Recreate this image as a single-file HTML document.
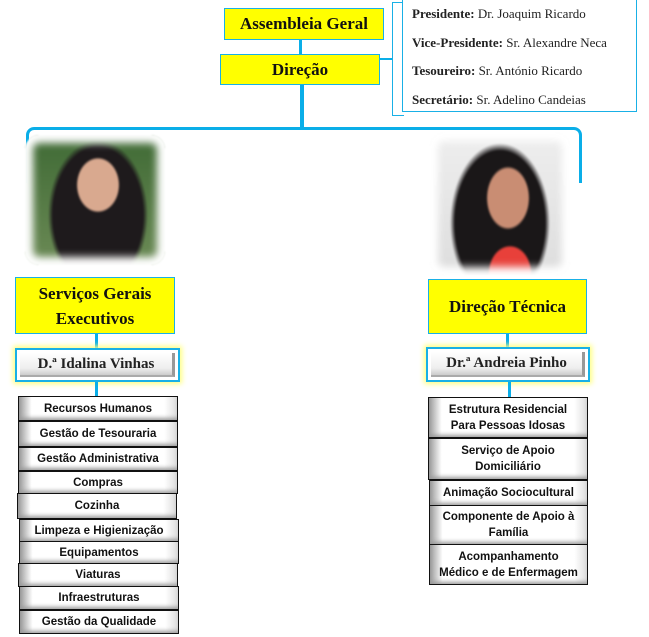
<!DOCTYPE html>
<html><head><meta charset="utf-8"><style>
body{margin:0;width:649px;height:637px;background:#fff;position:relative;overflow:hidden;font-family:"Liberation Serif",serif}
.a{position:absolute;box-sizing:border-box}
.y{background:#ffff00;border:1.5px solid #19b0e6;font-weight:bold;color:#111;display:flex;align-items:center;justify-content:center;text-align:center;font-size:17px}
.ln{position:absolute;background:#0aaee8}
.n{border:2px solid #19b0e6;box-shadow:0 0 5px 2px #ffff80;background:#fff;padding:3px}
.n div{height:100%;box-sizing:border-box;background:linear-gradient(#fff,#eee 70%,#ccc);border-right:3px solid #999;border-bottom:2px solid #aaa;display:flex;align-items:center;justify-content:center;font-weight:bold;font-size:15px;color:#222}
.it{border:1px solid #111;background:linear-gradient(90deg,#999 0,#fff 8%,#fff 92%,#ddd),#fff;font-family:"Liberation Sans",sans-serif;font-weight:bold;font-size:11.5px;color:#111;display:flex;align-items:center;justify-content:center;text-align:center;line-height:16px;box-shadow:inset 0 -4px 4px -2px #999}
.ph{border-radius:14px;filter:blur(0.8px);box-shadow:0 0 8px 8px #fff inset}
</style></head><body>
<div class="a y" style="left:224px;top:8px;width:160px;height:32px">Assembleia Geral</div>
<div class="ln" style="left:299px;top:40px;width:3px;height:14px"></div>
<div class="a y" style="left:220px;top:54px;width:160px;height:31px">Direção</div>
<div class="ln" style="left:300px;top:85px;width:4px;height:42px"></div>
<div class="ln" style="left:380px;top:58px;width:12px;height:1.5px"></div>
<div class="a" style="left:392px;top:2px;width:12px;height:114px;border:1.5px solid #19b0e6;border-right:none"></div>
<div class="a" style="left:402px;top:0;width:235px;height:112px;border:1.5px solid #19b0e6;border-top:none;background:#fff;font-size:13px;color:#222;padding:0 0 0 9px;line-height:28.5px">
<b>Presidente:</b> Dr. Joaquim Ricardo<br><b>Vice-Presidente:</b> Sr. Alexandre Neca<br><b>Tesoureiro:</b> Sr. António Ricardo<br><b>Secretário:</b> Sr. Adelino Candeias</div>
<div class="a" style="left:26px;top:127px;width:556px;height:56px;border:3px solid #0aaee8;border-bottom:none;border-radius:8px 8px 0 0"></div>
<!-- photos -->
<div class="a ph" style="left:25px;top:135px;width:140px;height:130px;background:radial-gradient(ellipse 22px 28px at 73px 50px,#d9a98f 90%,transparent),radial-gradient(ellipse 50px 75px at 73px 80px,#1e1a1c 90%,transparent),linear-gradient(#3f6a35,#6b8a55)"></div>
<div class="a ph" style="left:430px;top:133px;width:140px;height:142px;background:radial-gradient(ellipse 22px 32px at 78px 65px,#c98d73 90%,transparent),radial-gradient(ellipse 22px 28px at 80px 140px,#e8403a 90%,transparent),radial-gradient(ellipse 50px 80px at 70px 90px,#1a1718 90%,transparent),linear-gradient(#eee,#ddd)"></div>
<!-- left branch -->
<div class="a y" style="left:15px;top:277px;width:160px;height:57px;line-height:25px">Serviços Gerais<br>Executivos</div>
<div class="ln" style="left:95px;top:334px;width:3px;height:14px"></div>
<div class="a n" style="left:15px;top:348px;width:165px;height:34px"><div>D.ª Idalina Vinhas</div></div>
<div class="ln" style="left:95px;top:382px;width:3px;height:14px"></div>
<div class="a it" style="left:18px;top:396px;width:160px;height:25px">Recursos Humanos</div>
<div class="a it" style="left:18px;top:421px;width:160px;height:26px">Gestão de Tesouraria</div>
<div class="a it" style="left:18px;top:447px;width:160px;height:24px">Gestão Administrativa</div>
<div class="a it" style="left:18px;top:471px;width:160px;height:23px">Compras</div>
<div class="a it" style="left:17px;top:493px;width:160px;height:26px">Cozinha</div>
<div class="a it" style="left:19px;top:519px;width:160px;height:23px">Limpeza e Higienização</div>
<div class="a it" style="left:19px;top:541px;width:160px;height:23px">Equipamentos</div>
<div class="a it" style="left:18px;top:563px;width:160px;height:24px">Viaturas</div>
<div class="a it" style="left:19px;top:586px;width:160px;height:24px">Infraestruturas</div>
<div class="a it" style="left:19px;top:610px;width:160px;height:24px">Gestão da Qualidade</div>
<!-- right branch -->
<div class="a y" style="left:428px;top:279px;width:159px;height:55px">Direção Técnica</div>
<div class="ln" style="left:506px;top:334px;width:3px;height:13px"></div>
<div class="a n" style="left:426px;top:347px;width:164px;height:35px"><div>Dr.ª Andreia Pinho</div></div>
<div class="ln" style="left:508px;top:382px;width:3px;height:15px"></div>
<div class="a it" style="left:428px;top:397px;width:160px;height:41px">Estrutura Residencial<br>Para Pessoas Idosas</div>
<div class="a it" style="left:428px;top:438px;width:160px;height:42px">Serviço de Apoio<br>Domiciliário</div>
<div class="a it" style="left:429px;top:480px;width:159px;height:26px">Animação Sociocultural</div>
<div class="a it" style="left:429px;top:505px;width:159px;height:40px">Componente de Apoio à<br>Família</div>
<div class="a it" style="left:429px;top:544px;width:159px;height:41px">Acompanhamento<br>Médico e de Enfermagem</div>
</body></html>
